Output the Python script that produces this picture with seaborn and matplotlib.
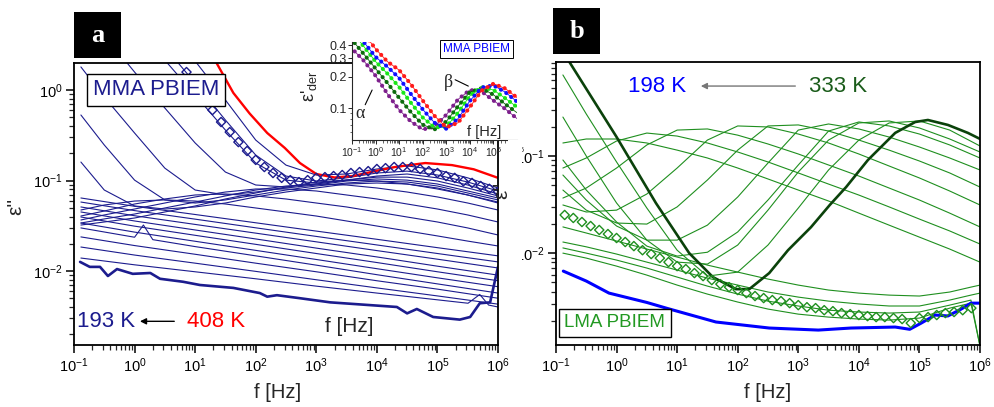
import matplotlib
matplotlib.use("Agg")
import matplotlib.pyplot as plt
from matplotlib.patches import Rectangle
from matplotlib.ticker import LogLocator, FixedLocator, FixedFormatter, NullFormatter
import numpy as np
import seaborn as sns

sns.set_style("ticks")
plt.rcParams["font.family"] = ["Liberation Sans", "DejaVu Sans"]
plt.rcParams["mathtext.fontset"] = "custom"
plt.rcParams["mathtext.rm"] = "Liberation Sans"
plt.rcParams["mathtext.it"] = "Liberation Sans:italic"

# ---------------- frequency grids ----------------
f_half = [0.13, 0.316, 1, 3.16, 10, 31.6, 100, 316, 1e3, 3.16e3, 1e4, 3.16e4, 1e5, 3.16e5, 1e6]
f_dec = [0.13, 1, 10, 100, 1e3, 1e4, 1e5, 1e6]
f_end = [0.13, 0.316, 1, 3.16, 10, 31.6, 100, 316, 1e3, 3.16e3, 1e4, 3.16e4, 1e5, 3.16e5, 7.08e5, 1e6]
f_dia = [0.139, 0.193, 0.268, 0.373, 0.518, 0.720,
         1.0, 1.39, 1.93, 2.68, 3.73, 5.18, 7.20,
         10, 13.9, 19.3, 26.8, 37.3, 51.8, 72.0,
         100, 139, 193, 268, 373, 518, 720,
         1e3, 1.39e3, 1.93e3, 2.68e3, 3.73e3, 5.18e3, 7.2e3,
         1e4, 1.39e4, 1.93e4, 2.68e4, 3.73e4, 5.18e4, 7.2e4,
         1e5, 1.39e5, 1.93e5, 2.68e5, 3.73e5, 5.18e5, 7.2e5,
         1e6]

# ---------------- panel a : MMA PBIEM (193 K ... 408 K) ----------------
a_low = [  # nearly straight low-temperature curves, on f_dec
    [0.0184, 0.0150, 0.0122, 0.0099, 0.0080, 0.0065, 0.0053, 0.0043],
    [0.0238, 0.0191, 0.0153, 0.0122, 0.0098, 0.0078, 0.0063, 0.0050],
    [0.0339, 0.0269, 0.0213, 0.0169, 0.0134, 0.0106, 0.0084, 0.0067],
    [0.0395, 0.0313, 0.0248, 0.0197, 0.0156, 0.0124, 0.0098, 0.0078],
    [0.0449, 0.0357, 0.0284, 0.0226, 0.0179, 0.0143, 0.0113, 0.0090],
    [0.0510, 0.0408, 0.0327, 0.0262, 0.0210, 0.0168, 0.0135, 0.0108],
    [0.0578, 0.0465, 0.0374, 0.0300, 0.0241, 0.0194, 0.0156, 0.0126],
    [0.0641, 0.0519, 0.0421, 0.0341, 0.0276, 0.0224, 0.0181, 0.0147],
]
a_l1_f = [0.13, 1, 10, 100, 1e3, 1e4, 1e5, 3.2e5, 5e5, 7e5, 1e6]
a_l1 = [0.0139, 0.0117, 0.0098, 0.0082, 0.0068, 0.0057, 0.0048, 0.0044, 0.0055, 0.0042, 0.0040]
a_l4_f = [0.13, 1, 1.4, 2, 10, 100, 1e3, 1e4, 1e5, 1e6]
a_l4 = [0.0299, 0.0236, 0.0322, 0.0222, 0.0186, 0.0147, 0.0116, 0.0091, 0.0072, 0.0057]

a_peak = [  # beta peak entering the window, on f_half
    [0.0472, 0.0536, 0.0593, 0.0610, 0.0593, 0.0550, 0.0497, 0.0449, 0.0405, 0.0357, 0.0314, 0.0277, 0.0244, 0.0214, 0.0189],
    [0.0405, 0.0460, 0.0550, 0.0625, 0.0692, 0.0710, 0.0675, 0.0625, 0.0564, 0.0510, 0.0449, 0.0395, 0.0348, 0.0299, 0.0250],
    [0.0366, 0.0416, 0.0484, 0.0564, 0.0658, 0.0746, 0.0806, 0.0806, 0.0766, 0.0692, 0.0625, 0.0550, 0.0484, 0.0416, 0.0348],
    [0.0339, 0.0376, 0.0426, 0.0497, 0.0578, 0.0675, 0.0785, 0.0869, 0.0915, 0.0892, 0.0827, 0.0746, 0.0658, 0.0564, 0.0472],
    [0.0322, 0.0348, 0.0385, 0.0449, 0.0523, 0.0625, 0.0728, 0.0848, 0.0962, 0.101, 0.0987, 0.0915, 0.0806, 0.0692, 0.0578],
    [0.160, 0.0785, 0.0523, 0.0484, 0.0510, 0.0564, 0.0658, 0.0746, 0.0827, 0.0915, 0.0938, 0.0915, 0.0827, 0.0692, 0.0564],
    [0.530, 0.247, 0.101, 0.0610, 0.0564, 0.0610, 0.0692, 0.0785, 0.0869, 0.0938, 0.0987, 0.0962, 0.0869, 0.0728, 0.0610],
    [1.80, 0.837, 0.335, 0.137, 0.0785, 0.0692, 0.0746, 0.0827, 0.0892, 0.0987, 0.104, 0.101, 0.0915, 0.0766, 0.0641],
    [8.7, 4.05, 1.58, 0.633, 0.260, 0.124, 0.0892, 0.0848, 0.0915, 0.101, 0.109, 0.109, 0.0987, 0.0827, 0.0675],
]
a_s3 = [5.5, 2.14, 0.88, 0.361, 0.156, 0.101, 0.0938, 0.101, 0.112, 0.118, 0.107, 0.0892, 0.0710]   # f_half[2:]
a_s2 = [2.99, 1.19, 0.466, 0.191, 0.112, 0.0987, 0.107, 0.121, 0.127, 0.115, 0.0962, 0.0766]        # f_half[3:]
a_s1 = [2.09, 0.776, 0.280, 0.148, 0.115, 0.118, 0.134, 0.145, 0.131, 0.107, 0.0827]                # f_half[4:]

a_193_f = [0.126, 0.182, 0.269, 0.363, 0.513, 0.933, 1.82, 2.63, 6.31, 12.0, 42.7, 117, 155, 224, 537,
           1700, 21400, 31600, 45700, 85100, 234000, 347000, 501000, 741000, 1e6]
a_193 = [0.0126, 0.0111, 0.0111, 0.0088, 0.0105, 0.0093, 0.0095, 0.0082, 0.0076, 0.0070, 0.0065, 0.0057,
         0.0052, 0.0054, 0.0050, 0.0045, 0.0040, 0.0034, 0.0038, 0.0031, 0.0029, 0.0031, 0.0044, 0.0045, 0.0111]
a_408_f = [20, 42.7, 79.4, 155, 302, 537, 1000, 2000, 3980, 1e4, 2e4, 6.3e4, 1.74e5, 3.98e5, 1e6]
a_408 = [2.3, 0.93, 0.55, 0.335, 0.229, 0.156, 0.118, 0.108, 0.112, 0.128, 0.141, 0.156, 0.148, 0.133, 0.107]
a_dia = [1.58, 1.13, 0.80, 0.60, 0.443, 0.343, 0.266, 0.212, 0.169, 0.141, 0.121, 0.107, 0.101, 0.096,
         0.101, 0.107, 0.109, 0.112, 0.115, 0.121, 0.124, 0.127, 0.134, 0.137, 0.141, 0.141, 0.141, 0.134,
         0.127, 0.121, 0.112, 0.107, 0.098, 0.094, 0.087, 0.081, 0.075]   # f_dia[12:]

# inset: derivative spectra, on f_half
ins_purple = [0.35, 0.285, 0.205, 0.138, 0.097, 0.075, 0.063, 0.067, 0.087, 0.122, 0.150, 0.145, 0.119, 0.099, 0.080]
ins_dkgreen = [0.42, 0.33, 0.24, 0.175, 0.126, 0.092, 0.070, 0.063, 0.075, 0.105, 0.143, 0.156, 0.135, 0.110, 0.091]
ins_lime = [0.50, 0.39, 0.28, 0.215, 0.160, 0.113, 0.082, 0.066, 0.067, 0.091, 0.132, 0.160, 0.150, 0.125, 0.103]
ins_blue = [0.60, 0.43, 0.31, 0.25, 0.195, 0.137, 0.098, 0.073, 0.064, 0.080, 0.118, 0.158, 0.166, 0.143, 0.116]
ins_red = [0.70, 0.52, 0.37, 0.28, 0.232, 0.170, 0.119, 0.085, 0.066, 0.073, 0.103, 0.148, 0.172, 0.155, 0.127]

# ---------------- panel b : LMA PBIEM (198 K ... 333 K) ----------------
b_flat = [  # on f_end
    [0.0186, 0.0161, 0.0133, 0.0110, 0.00910, 0.00752, 0.00637, 0.00540, 0.00468, 0.00416, 0.00387, 0.00369, 0.00361, 0.00397, 0.00446, 0.00468],
    [0.0130, 0.0116, 0.00977, 0.00807, 0.00668, 0.00552, 0.00468, 0.00397, 0.00352, 0.00320, 0.00299, 0.00285, 0.00285, 0.00328, 0.00369, 0.00387],
    [0.0113, 0.00999, 0.00847, 0.00701, 0.00566, 0.00457, 0.00378, 0.00320, 0.00285, 0.00258, 0.00247, 0.00241, 0.00247, 0.00291, 0.00328, 0.0011],
    [0.00999, 0.00888, 0.00734, 0.00593, 0.00468, 0.00378, 0.00313, 0.00265, 0.00235, 0.00219, 0.00209, 0.00204, 0.00214, 0.00271, 0.00305, 0.0011],
]
b_peak = [  # beta peak moving through the window, on f_half
    [0.1362, 0.1497, 0.1497, 0.1362, 0.115, 0.0954, 0.0752, 0.0580, 0.0446, 0.0344, 0.0258, 0.0194, 0.0146, 0.0110, 0.00807],
    [0.0752, 0.0954, 0.1428, 0.1724, 0.1605, 0.1362, 0.1100, 0.0868, 0.0669, 0.0514, 0.0396, 0.0299, 0.0224, 0.0169, 0.0124],
    [0.0369, 0.0468, 0.0752, 0.130, 0.185, 0.190, 0.164, 0.133, 0.1049, 0.0808, 0.0622, 0.0468, 0.0352, 0.0258, 0.0186],
    [0.0313, 0.0265, 0.0277, 0.0406, 0.0752, 0.146, 0.204, 0.1992, 0.1684, 0.1362, 0.1049, 0.0789, 0.0594, 0.0436, 0.0313],
    [0.0446, 0.0277, 0.0204, 0.0199, 0.0299, 0.0566, 0.115, 0.204, 0.209, 0.1808, 0.146, 0.115, 0.0888, 0.0669, 0.0479],
    [0.0637, 0.0352, 0.0190, 0.0136, 0.0136, 0.0194, 0.0378, 0.0847, 0.185, 0.2138, 0.190, 0.1568, 0.1238, 0.0954, 0.0718],
    [0.0910, 0.0446, 0.0209, 0.0118, 0.00931, 0.0102, 0.0165, 0.0352, 0.0808, 0.1808, 0.2243, 0.204, 0.1684, 0.130, 0.0954],
    [0.252, 0.100, 0.0328, 0.0136, 0.00807, 0.00770, 0.0121, 0.0277, 0.0685, 0.146, 0.219, 0.2296, 0.1945, 0.1497, 0.1100],
    [0.684, 0.271, 0.0868, 0.0291, 0.0107, 0.00579, 0.00637, 0.0121, 0.0291, 0.0718, 0.146, 0.219, 0.2296, 0.185, 0.1268],
]
b_333_f = [0.126, 0.158, 1.0, 4.47, 15.8, 38.9, 93.3, 155, 331, 676, 1622, 3311, 6166, 14125, 39811, 85114,
           138000, 295000, 631000, 1e6]
b_333 = [1.25, 0.98, 0.157, 0.0327, 0.0100, 0.00566, 0.00425, 0.00425, 0.00622, 0.0107, 0.0185, 0.0313,
         0.0479, 0.0910, 0.173, 0.224, 0.235, 0.209, 0.173, 0.150]
b_198_f = [0.132, 0.316, 0.75, 3.16, 6.6, 43.7, 331, 2140, 7410, 39800, 69200, 107000, 182000, 295000,
           490000, 708000, 1e6]
b_198 = [0.00652, 0.00515, 0.00387, 0.00310, 0.00271, 0.00195, 0.00169, 0.00161, 0.00169, 0.00173, 0.00164,
         0.00190, 0.00230, 0.00225, 0.00265, 0.00305, 0.00305]
b_dia = [0.0247, 0.0230, 0.0209, 0.0190, 0.0173, 0.0157, 0.0143, 0.0130, 0.0118, 0.0107, 0.00977, 0.00888,
         0.00807, 0.00734, 0.00684, 0.00622, 0.00579, 0.00527, 0.00479, 0.00446, 0.00416, 0.00387, 0.00361,
         0.00344, 0.00328, 0.00320, 0.00305, 0.00291, 0.00277, 0.00271, 0.00258, 0.00252, 0.00241, 0.00235,
         0.00230, 0.00224, 0.00219, 0.00219, 0.00214, 0.00209, 0.00190, 0.00214, 0.00219, 0.00230, 0.00241,
         0.00247, 0.00258, 0.00271]   # f_dia[:48]

NAVY = "#1c1c8e"
GREEN = "#1f8f1f"
DKGREEN = "#0b420b"


def line(ax, f, v, color, lw, **kw):
    sns.lineplot(x=f, y=v, ax=ax, color=color, lw=lw, estimator=None, sort=False, legend=False, **kw)


def style_axes(ax, ylim):
    ax.set_xscale("log")
    ax.set_yscale("log")
    ax.set_xlim(0.1, 1e6)
    ax.set_ylim(*ylim)
    for s in ax.spines.values():
        s.set_linewidth(1.3)
        s.set_color("black")
    ax.xaxis.set_major_locator(LogLocator(base=10, numticks=12))
    ax.xaxis.set_minor_locator(LogLocator(base=10, subs=np.arange(2, 10), numticks=100))
    ax.yaxis.set_minor_locator(LogLocator(base=10, subs=np.arange(2, 10), numticks=100))
    ax.yaxis.set_minor_formatter(NullFormatter())
    ax.tick_params(which="major", direction="out", length=6, width=1.1, labelsize=10.5, pad=2,
                   top=False, right=False, colors="black")
    ax.tick_params(which="minor", direction="out", length=3.5, width=0.9, top=False, right=False)


fig = plt.figure(figsize=(9.95, 4.07), dpi=100)
axa = fig.add_axes([74 / 995, 62 / 407, 424 / 995, 282 / 407])
axb = fig.add_axes([556 / 995, 62 / 407, 424 / 995, 283 / 407])
style_axes(axa, (0.00152, 1.99))
style_axes(axb, (0.00113, 0.93))

# ----- panel a -----
for v in a_low:
    line(axa, f_dec, v, NAVY, 0.8)
line(axa, a_l1_f, a_l1, NAVY, 0.8)
line(axa, a_l4_f, a_l4, NAVY, 0.8)
for v in a_peak:
    line(axa, f_half, v, NAVY, 0.8)
line(axa, f_half[2:], a_s3, NAVY, 0.8)
line(axa, f_half[3:], a_s2, NAVY, 0.8)
line(axa, f_half[4:], a_s1, NAVY, 0.8)
line(axa, a_193_f, a_193, NAVY, 1.9)
line(axa, a_408_f, a_408, "#ff0000", 1.7)
sns.scatterplot(x=f_dia[12:], y=a_dia, ax=axa, marker="D", s=22, facecolor="none",
                edgecolor=NAVY, linewidth=1.0, legend=False, zorder=3)

axa.set_xlabel("f [Hz]", fontsize=14.5)
axa.xaxis.set_label_coords(0.48, -0.135)
axa.set_ylabel("ε''", fontsize=15)
axa.yaxis.set_label_coords(-0.115, 0.49)
axa.text(0.193, 0.905, "MMA PBIEM", transform=axa.transAxes, fontsize=16, color=NAVY,
         ha="center", va="center", zorder=6,
         bbox=dict(boxstyle="square,pad=0.25", fc="white", ec="black", lw=1.0))
axa.text(0.008, 0.082, "193 K", transform=axa.transAxes, fontsize=16, color=NAVY, ha="left", va="center")
axa.text(0.266, 0.082, "408 K", transform=axa.transAxes, fontsize=16, color="#ff0000", ha="left", va="center")
axa.annotate("", xy=(0.149, 0.084), xytext=(0.243, 0.084), xycoords="axes fraction",
             arrowprops=dict(arrowstyle="-|>", color="black", lw=1.0, mutation_scale=9))
axa.text(0.65, 0.064, "f [Hz]", transform=axa.transAxes, fontsize=15, ha="center", va="center")

# ----- inset -----
axi = fig.add_axes([352 / 995, 267 / 407, 165 / 995, 98 / 407], zorder=5)
axi.set_facecolor("white")
axi.set_xscale("log")
axi.set_yscale("log")
axi.set_xlim(0.1, 1e6)
axi.set_ylim(0.05, 0.43)
axi.spines["top"].set_visible(False)
axi.spines["right"].set_visible(False)
for side in ("left", "bottom"):
    axi.spines[side].set_linewidth(0.8)
axi.xaxis.set_major_locator(LogLocator(base=10, numticks=12))
axi.xaxis.set_minor_locator(LogLocator(base=10, subs=np.arange(2, 10), numticks=100))
axi.yaxis.set_major_locator(FixedLocator([0.1, 0.2, 0.3, 0.4]))
axi.yaxis.set_major_formatter(FixedFormatter(["0.1", "0.2", "0.3", "0.4"]))
axi.yaxis.set_minor_locator(FixedLocator([0.06, 0.07, 0.08, 0.09]))
axi.yaxis.set_minor_formatter(NullFormatter())
axi.tick_params(axis="x", which="major", direction="out", length=3, width=0.7, labelsize=7.5, pad=1)
axi.tick_params(axis="y", which="major", direction="out", length=3, width=0.7, labelsize=9, pad=1)
axi.tick_params(which="minor", direction="out", length=1.8, width=0.5)
for vals, col in [(ins_purple, "#7d1f8c"), (ins_dkgreen, "#0d6b0d"), (ins_lime, "#19e619"),
                  (ins_blue, "#1010ff"), (ins_red, "#ff1a1a")]:
    line(axi, f_half, vals, col, 0.6)
    line(axi, f_half, vals, col, 3.0, linestyle=(0, (0.01, 1.5)), dash_capstyle="round")
axi.set_ylabel("ε$'_{\\mathrm{der}}$", fontsize=13, labelpad=1)
axi.yaxis.set_label_coords(-0.2, 0.55)
axi.text(0.757, 0.932, "MMA PBIEM", transform=axi.transAxes, fontsize=8.5, color="#0000ff",
         ha="center", va="center", bbox=dict(boxstyle="square,pad=0.25", fc="white", ec="black", lw=0.7))
axi.text(0.05, 0.27, "α", transform=axi.transAxes, fontsize=13, family="Liberation Serif",
         ha="center", va="center")
axi.plot([0.08, 0.122], [0.36, 0.51], transform=axi.transAxes, color="black", lw=0.8)
axi.text(0.585, 0.585, "β", transform=axi.transAxes, fontsize=13, family="Liberation Serif",
         ha="center", va="center")
axi.plot([0.625, 0.705], [0.615, 0.55], transform=axi.transAxes, color="black", lw=0.8)
axi.text(0.80, 0.085, "f [Hz]", transform=axi.transAxes, fontsize=10.5, ha="center", va="center")

# ----- panel b -----
for v in b_flat:
    line(axb, f_end, v, GREEN, 0.8)
for v in b_peak:
    line(axb, f_half, v, GREEN, 0.8)
sns.scatterplot(x=f_dia[:48], y=b_dia, ax=axb, marker="D", s=22, facecolor="none",
                edgecolor=GREEN, linewidth=1.0, legend=False, zorder=3)
line(axb, b_333_f, b_333, DKGREEN, 1.9)
line(axb, b_198_f, b_198, "#0000ff", 2.2)

axb.set_xlabel("f [Hz]", fontsize=14.5)
axb.xaxis.set_label_coords(0.5, -0.135)
axb.set_ylabel("")
axb.text(0.170, 0.912, "198 K", transform=axb.transAxes, fontsize=16, color="#0000ff", ha="left", va="center")
axb.text(0.597, 0.912, "333 K", transform=axb.transAxes, fontsize=16, color="#1a5c1a", ha="left", va="center")
axb.annotate("", xy=(0.335, 0.915), xytext=(0.571, 0.915), xycoords="axes fraction",
             arrowprops=dict(arrowstyle="-|>", color="#777777", lw=1.0, mutation_scale=9))
axb.text(0.139, 0.078, "LMA PBIEM", transform=axb.transAxes, fontsize=13.5, color="#229922",
         ha="center", va="center", zorder=6,
         bbox=dict(boxstyle="square,pad=0.3", fc="white", ec="black", lw=1.0))

fig.text(502 / 995, 1 - 190 / 407, "ε''", rotation=90, fontsize=15, ha="center", va="center")
# panel b tick labels are partly hidden behind panel a in the original figure
fig.patches.append(Rectangle((508 / 995, 1 - 270 / 407), 14 / 995, 130 / 407, transform=fig.transFigure,
                             facecolor="white", edgecolor="none", zorder=10))

# panel letters
for x0, y0, letter in [(74, 12, "a"), (553, 8, "b")]:
    fig.patches.append(Rectangle((x0 / 995, 1 - (y0 + 46) / 407), 47 / 995, 46 / 407,
                                 transform=fig.transFigure, facecolor="black", edgecolor="none", zorder=11))
    fig.text((x0 + 23.5) / 995, 1 - (y0 + 24) / 407, letter, color="white", fontsize=19, fontweight="bold",
             family="Liberation Serif", ha="center", va="center", zorder=12)

fig.savefig("out.png", dpi=100)
